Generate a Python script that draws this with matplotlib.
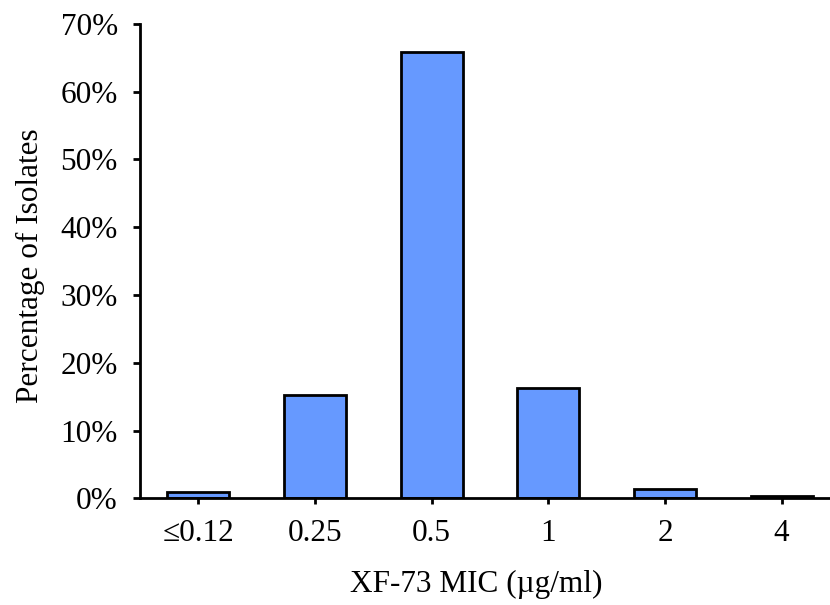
import matplotlib
matplotlib.use("Agg")
import matplotlib.pyplot as plt
from matplotlib.ticker import FuncFormatter

categories = ["\u22640.12", "0.25", "0.5", "1", "2", "4"]
percentages = [1.0, 15.3, 65.8, 16.3, 1.4, 0.3]
yticks = [0, 10, 20, 30, 40, 50, 60, 70]

plt.rcParams['font.family'] = ['Liberation Serif', 'DejaVu Serif']

fig = plt.figure(figsize=(8.3, 6.05), dpi=100)
ax = fig.add_axes([140/830, 0.1764, 700/830, 0.784])

x = list(range(len(categories)))
ax.bar(x, percentages, width=0.53, color="#6699FF", edgecolor="black", linewidth=2.0, zorder=3)

ax.set_xlim(-0.5, 5.5)
ax.set_ylim(0, 70)
ax.set_yticks(yticks)
ax.yaxis.set_major_formatter(FuncFormatter(lambda v, p: f"{int(v)}%"))
ax.set_xticks(x)
ax.set_xticklabels(categories)

for s in ["top", "right"]:
    ax.spines[s].set_visible(False)
for s in ["left", "bottom"]:
    ax.spines[s].set_linewidth(2.0)
ax.spines["bottom"].set_zorder(4)

ax.tick_params(axis="y", direction="out", length=5, width=2.0, labelsize=22.5, pad=11)
ax.tick_params(axis="x", direction="out", length=4, width=2.0, labelsize=22.5, pad=11)

ax.set_ylabel("Percentage of Isolates", fontsize=22.5, labelpad=11, y=0.49)
ax.set_xlabel("XF-73 MIC (\u00b5g/ml)", fontsize=22.5, labelpad=16, x=0.481)

fig.savefig("out.png", dpi=100)
